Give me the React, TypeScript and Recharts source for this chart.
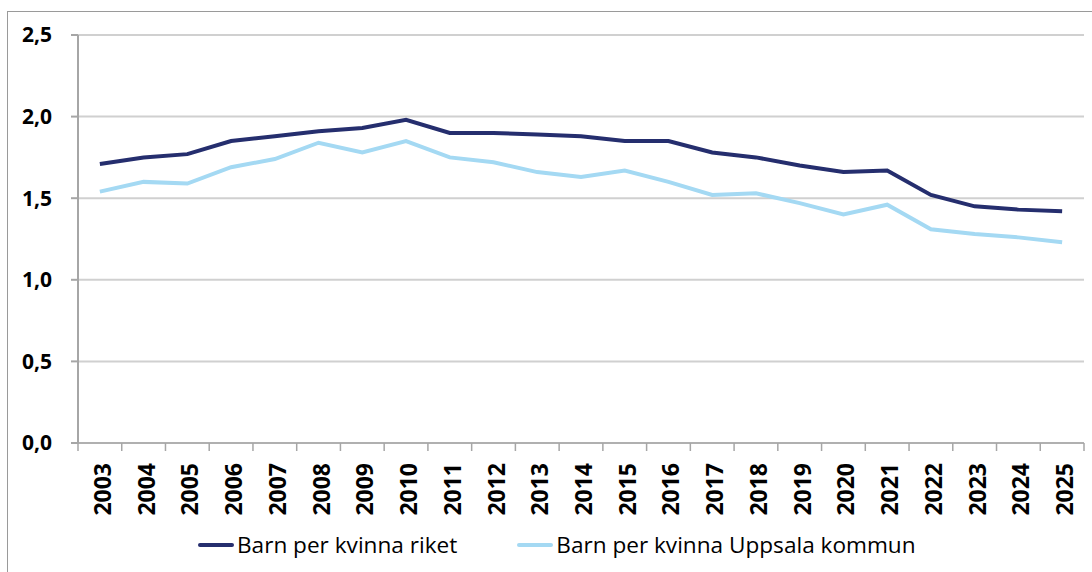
import { LineChart, Line, XAxis, YAxis, CartesianGrid, Legend } from 'recharts';

const years = [
  '2003', '2004', '2005', '2006', '2007', '2008', '2009', '2010', '2011', '2012', '2013', '2014',
  '2015', '2016', '2017', '2018', '2019', '2020', '2021', '2022', '2023', '2024', '2025',
];
const riket = [
  1.71, 1.75, 1.77, 1.85, 1.88, 1.91, 1.93, 1.98, 1.9, 1.9, 1.89, 1.88,
  1.85, 1.85, 1.78, 1.75, 1.7, 1.66, 1.67, 1.52, 1.45, 1.43, 1.42,
];
const uppsala = [
  1.54, 1.6, 1.59, 1.69, 1.74, 1.84, 1.78, 1.85, 1.75, 1.72, 1.66, 1.63,
  1.67, 1.6, 1.52, 1.53, 1.47, 1.4, 1.46, 1.31, 1.28, 1.26, 1.23,
];
const yTicks = [0, 0.5, 1, 1.5, 2, 2.5];
const seriesNames = ['Barn per kvinna riket', 'Barn per kvinna Uppsala kommun'];

const NAVY = '#252e6e';
const LIGHT = '#a4d9f3';
const AXIS = '#a6a6a6';
const AXIS_FONT = "'Open Sans', 'Noto Sans', sans-serif";

const W = 1092;
const H = 572;
const LEFT = 78;
const RIGHT = 8;
const HALF_BAND = (W - LEFT - RIGHT) / years.length / 2;

const chartData = years.map((year, i) => ({ year, riket: riket[i], uppsala: uppsala[i] }));

function YearTick(props: any) {
  const { x, y, payload, index } = props;
  return (
    <g>
      <line x1={x - HALF_BAND} x2={x - HALF_BAND} y1={y} y2={y + 8} stroke={AXIS} strokeWidth={1.5} />
      {index === years.length - 1 && (
        <line x1={x + HALF_BAND} x2={x + HALF_BAND} y1={y} y2={y + 8} stroke={AXIS} strokeWidth={1.5} />
      )}
      <g transform={`translate(${x + 2},${y + 20})`}>
        <text
          transform="rotate(-90)"
          textAnchor="end"
          dominantBaseline="central"
          fontFamily={AXIS_FONT}
          fontWeight="bold"
          fontSize={23}
          fill="#000"
        >
          {payload.value}
        </text>
      </g>
    </g>
  );
}

function LegendContent() {
  const colors = [NAVY, LIGHT];
  return (
    <div style={{ display: 'flex', paddingLeft: 198, paddingTop: 12 }}>
      {seriesNames.map((name, i) => (
        <div key={name} style={{ display: 'flex', alignItems: 'center', marginRight: 60 }}>
          <div style={{ width: 36, height: 4, background: colors[i], borderRadius: 2, marginRight: 3 }} />
          <span style={{ fontFamily: AXIS_FONT, fontSize: 22.6, color: '#000', lineHeight: '30px' }}>{name}</span>
        </div>
      ))}
    </div>
  );
}

export default function App() {
  return (
    <div style={{ position: 'absolute', left: 0, top: 0, width: W, height: H, overflow: 'hidden', background: '#fff' }}>
      <div
        style={{
          position: 'absolute',
          left: 7,
          top: 11,
          width: W,
          height: H,
          border: '1.5px solid #9a9a9a',
        }}
      />
      <LineChart width={W} height={H} data={chartData} margin={{ top: 35, right: RIGHT, left: 0, bottom: 10 }}>
        <CartesianGrid vertical={false} stroke="#d0d0d0" strokeWidth={2} />
        <XAxis
          dataKey="year"
          interval={0}
          height={75}
          padding={{ left: HALF_BAND, right: HALF_BAND }}
          tickLine={false}
          tickSize={0}
          tickMargin={0}
          tick={<YearTick />}
          stroke={AXIS}
          strokeWidth={1.5}
        />
        <YAxis
          width={LEFT}
          domain={[0, 2.5]}
          ticks={yTicks}
          tickSize={7}
          tickMargin={19}
          tickFormatter={(v: number) => v.toFixed(1).replace('.', ',')}
          tick={{ fontFamily: AXIS_FONT, fontWeight: 'bold', fontSize: 21, fill: '#000' }}
          stroke={AXIS}
          strokeWidth={2}
        />
        <Legend verticalAlign="bottom" height={44} content={<LegendContent />} />
        <Line dataKey="riket" name={seriesNames[0]} stroke={NAVY} strokeWidth={4} dot={false} isAnimationActive={false} />
        <Line dataKey="uppsala" name={seriesNames[1]} stroke={LIGHT} strokeWidth={4} dot={false} isAnimationActive={false} />
      </LineChart>
    </div>
  );
}
